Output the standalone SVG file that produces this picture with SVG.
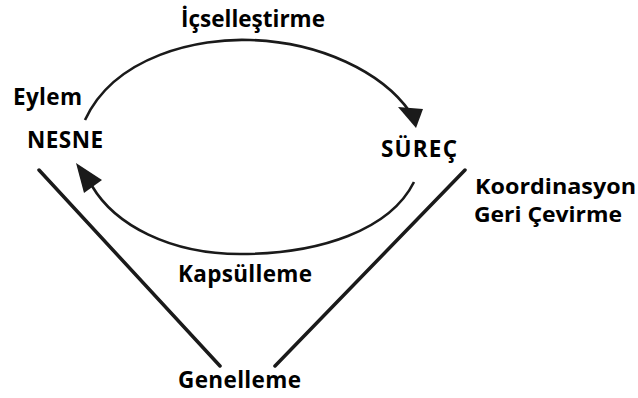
<svg xmlns="http://www.w3.org/2000/svg" width="638" height="398" viewBox="0 0 638 398">
<style>
text{font-family:"Open Sans","Liberation Sans",sans-serif;font-weight:bold;font-size:22.5px;fill:#000}
.sm{font-size:20.5px}
.arc{fill:none;stroke:#1a1a1a;stroke-width:2.6}
.line{fill:none;stroke:#1a1a1a;stroke-width:3.5;stroke-linecap:round}
.head{fill:#1a1a1a}
</style>
<rect width="638" height="398" fill="#fff"/>
<g id="connectors">
<path class="arc" d="M85,120 C115,55 200,38 250,40 C320,42 382,72 410,112"/>
<polygon class="head" points="398,107 423,109 416,128"/>
<path class="arc" d="M414,182 C390,230 320,254 240,254 C170,254 115,225 92,186"/>
<polygon class="head" points="76,163 102,180 84,193"/>
<line class="line" x1="39" y1="170" x2="220" y2="366"/>
<line class="line" x1="465" y1="170" x2="275" y2="366"/>
</g>
<g id="label-icsellestirme"><text x="181" y="27" textLength="144">İçselleştirme</text></g>
<g id="label-eylem"><text x="13" y="105" textLength="69">Eylem</text></g>
<g id="node-nesne"><text x="27" y="148" textLength="76">NESNE</text></g>
<g id="node-surec"><text x="381" y="157" textLength="76">SÜREÇ</text></g>
<g id="label-koordinasyon"><text class="sm" x="475" y="194" textLength="161" lengthAdjust="spacingAndGlyphs">Koordinasyon</text><text class="sm" x="474" y="222" textLength="148" lengthAdjust="spacingAndGlyphs">Geri Çevirme</text></g>
<g id="label-kapsulleme"><text x="178" y="282" textLength="134">Kapsülleme</text></g>
<g id="node-genelleme"><text x="178" y="388" textLength="123">Genelleme</text></g>
</svg>
